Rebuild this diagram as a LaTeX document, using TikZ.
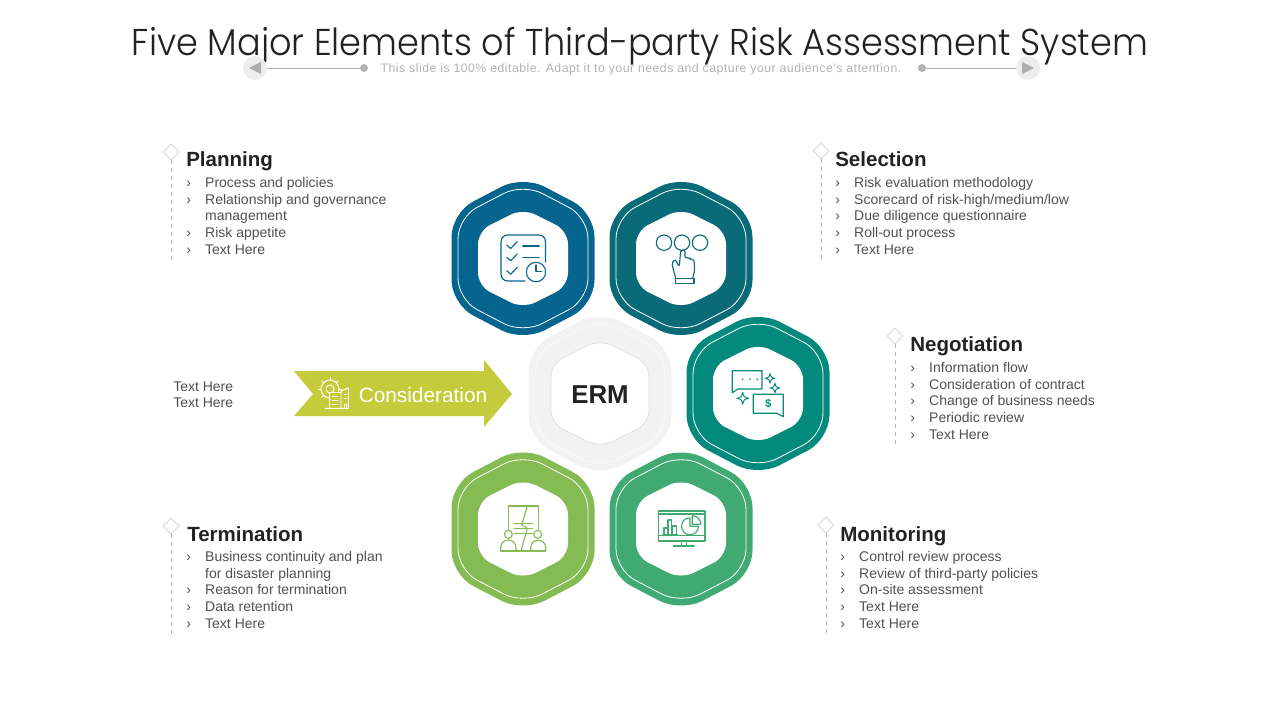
\documentclass[tikz,border=0pt]{standalone}
\usepackage{fontspec}
\setmainfont{Liberation Sans}
\newfontfamily\titlefont{Poppins Light}
\usetikzlibrary{shapes.geometric}
\definecolor{hexblue}{HTML}{05658F}
\definecolor{hexteal}{HTML}{0A6B78}
\definecolor{hexsea}{HTML}{038A7C}
\definecolor{hexlime}{HTML}{84BB53}
\definecolor{hexgreen}{HTML}{41AA72}
\definecolor{arrowlime}{HTML}{C4CC3C}
\definecolor{bodygray}{HTML}{505050}
\definecolor{headgray}{HTML}{222222}
\tikzset{
  heading/.style={anchor=base west, inner sep=0pt, text=headgray, font=\fontsize{15.4}{18}\selectfont\bfseries},
  itemlist/.style={anchor=north west, inner sep=0pt, align=left, text=bodygray, font=\fontsize{10.5}{12.56}\selectfont},
  marker/.style={diamond, draw=black!18, fill=white, line width=.6pt, minimum size=12pt, inner sep=0pt},
  guide/.style={draw=black!28, dashed, line width=.5pt},
  iconline/.style={line width=.85pt, line join=round, line cap=round},
}
\newcommand{\hexpath}[4]{(#1,#2-#4) -- (#1+#3,#2-#4*.55) -- (#1+#3,#2+#4*.55) -- (#1,#2+#4) -- (#1-#3,#2+#4*.55) -- (#1-#3,#2-#4*.55) -- cycle}
\newcommand{\hexcell}[4]{
  \fill[#4, rounded corners=18pt] \hexpath{#2}{#3}{71.5}{83};
  \draw[white, line width=.6pt, rounded corners=16pt] \hexpath{#2}{#3}{65}{75};
  \fill[white, rounded corners=10pt] \hexpath{#2}{#3}{45}{50};
  \coordinate (#1) at (#2,#3);
}
\newcommand{\sparkle}[3]{\draw[hexsea, line width=.7pt, line join=round] (#1,#2-#3) .. controls (#1+.2*#3,#2-.2*#3) .. (#1+#3,#2) .. controls (#1+.2*#3,#2+.2*#3) .. (#1,#2+#3) .. controls (#1-.2*#3,#2+.2*#3) .. (#1-#3,#2) .. controls (#1-.2*#3,#2-.2*#3) .. cycle;}
\newcommand{\itm}{\makebox[14.2pt][l]{›}}
\newcommand{\itc}{\hspace*{14.2pt}}
\begin{document}
\begin{tikzpicture}[x=.75pt, y=-.75pt]
  \useasboundingbox (0,0) rectangle (1280,720);

  \node[text=headgray, font=\fontsize{28}{34}\selectfont\titlefont, inner sep=0pt] (title) at (640,46.5) {\scalebox{.94}[1]{Five Major Elements of Third-party Risk Assessment System}};
  \node[text=black!30, font=\fontsize{9.2}{11}\selectfont\addfontfeatures{LetterSpace=4}, inner sep=0pt] (subtitle) at (641,69.5) {This slide is 100\% editable. Adapt it to your needs and capture your audience's attention.};

  \node[circle, fill=black!7, minimum size=18pt, inner sep=0pt] (orbl) at (255,68) {};
  \node[circle, fill=black!7, minimum size=18pt, inner sep=0pt] (orbr) at (1028,68) {};
  \fill[black!32] (249,68) -- (261,62) -- (261,74) -- cycle;
  \fill[black!32] (1034,68) -- (1022,62) -- (1022,74) -- cycle;
  \node[circle, fill=black!30, minimum size=6pt, inner sep=0pt] (dotl) at (364,68) {};
  \node[circle, fill=black!30, minimum size=6pt, inner sep=0pt] (dotr) at (922,68) {};
  \draw[black!30, line width=.6pt] (orbl) -- (dotl);
  \draw[black!30, line width=.6pt] (dotr) -- (orbr);

  \hexcell{hexplan}{523}{258.5}{hexblue}
  \hexcell{hexsel}{681}{258.5}{hexteal}
  \hexcell{hexneg}{758}{393.5}{hexsea}
  \hexcell{hexterm}{523}{529}{hexlime}
  \hexcell{hexmon}{681}{529}{hexgreen}

  \fill[black!5, rounded corners=18pt] \hexpath{600}{393.5}{71.5}{83};
  \draw[black!2, line width=.6pt, rounded corners=16pt] \hexpath{600}{393.5}{65}{75};
  \filldraw[draw=black!12, fill=white, line width=.5pt, rounded corners=10pt] \hexpath{600}{393.5}{49}{54};
  \node[text=headgray, font=\fontsize{19.4}{22}\selectfont\bfseries, inner sep=0pt] (erm) at (600,394.5) {ERM};

  \fill[arrowlime] (294,371) -- (484,371) -- (484,360) -- (512,394) -- (484,427) -- (484,416) -- (294,416) -- (313,394) -- cycle;
  \node[text=white, font=\fontsize{15.6}{18}\selectfont, inner sep=0pt] (consider) at (423,395) {Consideration};
  \node[itemlist] (sidetext) at (173,381.2) {Text Here\\Text Here};

  % checklist
  \begin{scope}[iconline, hexblue]
    \draw[rounded corners=5pt] (525,281) -| (501,235) -| (545.5,262);
    \foreach \y in {0,12.3,25.7}
      \draw (506.7,245+\y) -- (510.7,248.5+\y) -- (517.3,241.5+\y);
    \draw (522.7,246) -- (539.3,246);
    \draw (522.7,257.7) -- (539.3,257.7);
    \draw (536,272) circle (9.7);
    \draw (536,265) -- (536,271.7) -- (541.7,271.7);
  \end{scope}

  % hand
  \begin{scope}[iconline, hexteal]
    \foreach \x in {664,682,700}
      \draw (\x,242.7) circle (7.7);
    \draw (675.7,278.3) rectangle (694,283.3);
    \draw[rounded corners=1.5pt] (675.7,278.3) -- (671.7,263.3) -- (675,259.3) -- (679.3,266.7) -- (680.7,250) -- (685,250) -- (685,258.3) -- (689.3,257.3) -- (690,260) -- (694,259.5) -- (694.7,270) -- (692.7,278.3);
  \end{scope}

  % chat
  \begin{scope}[iconline, hexsea]
    \draw (738,389) -- (762,389) -- (762,370.7) -- (732.3,370.7) -- (732.3,392.7) -- cycle;
    \draw (777,413.3) -- (753.3,413.3) -- (753.3,394.3) -- (783.3,394.3) -- (783.3,416.7) -- cycle;
    \foreach \x in {742.7,750,757.3}
      \fill (\x,379.3) circle (.9);
    \node[text=hexsea, font=\fontsize{8.5}{10}\selectfont\bfseries, inner sep=0pt] (dollar) at (768.3,404) {\$};
  \end{scope}
  \sparkle{770}{378.3}{4.8}
  \sparkle{775}{388}{4.8}
  \sparkle{742.7}{398.3}{6}

  % contract
  \begin{scope}[iconline, hexlime]
    \draw (508.3,530) -- (508.3,506) -- (538.3,506) -- (538.3,530);
    \draw (527.3,506) -- (521.7,525) -- (527.3,528.3) -- (521,551);
    \foreach \y in {523.3,528.3,533.3}
      \draw (514,\y) -- (532.7,\y);
    \draw (508.3,534.3) circle (4);
    \draw (537.7,534.3) circle (4);
    \draw (500.7,551) -- (545.7,551);
    \draw (500.7,551) -- (500.7,547.6) arc (180:360:7.65) -- (516,551);
    \draw (530.7,551) -- (530.7,547.6) arc (180:360:7.5) -- (545.7,551);
  \end{scope}

  % monitor
  \begin{scope}[iconline, hexgreen]
    \draw (658.3,511) rectangle (705,541);
    \draw (658.3,514) -- (705,514);
    \draw (658.3,535.7) -- (705,535.7);
    \draw (681.7,541) -- (681.7,546);
    \draw (686.7,541) -- (686.7,546);
    \draw (673.3,546) -- (694.3,546);
    \draw (663,534.3) -- (677.5,534.3);
    \draw (664,534.3) |- (667.5,528) -- (667.5,534.3);
    \draw (668,534.3) |- (671.7,520) -- (671.7,534.3);
    \draw (672.7,534.3) |- (676.7,526) -- (676.7,534.3);
    \draw (690,517.8) arc (-90:-360:8.5) -- (690,526.3) -- cycle;
    \draw (692.3,515.7) arc (-90:0:8.6) -- (692.3,524.3) -- cycle;
  \end{scope}

  % gear and building
  \begin{scope}[iconline, white, line width=.7pt]
    \draw (330,389) ++(100:9) arc (100:380:9);
    \foreach \a in {135,180,...,360}
      \draw (330,389) ++(\a:9) -- ++(\a:2.6);
    \draw (330,389) circle (4);
    \draw (325,408.3) -- (348.3,408.3) -- (348.3,388) -- (341,391) -- (341,408.3);
    \draw (329,408.3) -- (329,392) -- (341,392);
    \foreach \y in {396,400,404}
      \draw (332,\y) -- (338,\y);
    \draw (344,394) -- (346,394);
    \draw (344,398) -- (346,398);
    \draw (344,404) rectangle (346,408.3);
  \end{scope}

  \node[marker] (markplan) at (171,152) {};
  \coordinate (endplan) at (171,263);
  \draw[guide] (markplan) -- (endplan);
  \node[heading] (headplan) at (186,166.5) {Planning};
  \node[itemlist] (listplan) at (186,177) {\itm Process and policies\\\itm Relationship and governance\\\itc management\\\itm Risk appetite\\\itm Text Here};

  \node[marker] (marksel) at (821,151) {};
  \coordinate (endsel) at (821,262);
  \draw[guide] (marksel) -- (endsel);
  \node[heading] (headsel) at (835,166.5) {Selection};
  \node[itemlist] (listsel) at (835,177) {\itm Risk evaluation methodology\\\itm Scorecard of risk-high/medium/low\\\itm Due diligence questionnaire\\\itm Roll-out process\\\itm Text Here};

  \node[marker] (markneg) at (895,336) {};
  \coordinate (endneg) at (895,447);
  \draw[guide] (markneg) -- (endneg);
  \node[heading] (headneg) at (910,351) {Negotiation};
  \node[itemlist] (listneg) at (910,362) {\itm Information flow\\\itm Consideration of contract\\\itm Change of business needs\\\itm Periodic review\\\itm Text Here};

  \node[marker] (markterm) at (171,526) {};
  \coordinate (endterm) at (171,637);
  \draw[guide] (markterm) -- (endterm);
  \node[heading] (headterm) at (187,541) {Termination};
  \node[itemlist] (listterm) at (186,551) {\itm Business continuity and plan\\\itc for disaster planning\\\itm Reason for termination\\\itm Data retention\\\itm Text Here};

  \node[marker] (markmon) at (826,525) {};
  \coordinate (endmon) at (826,636);
  \draw[guide] (markmon) -- (endmon);
  \node[heading] (headmon) at (840,541) {Monitoring};
  \node[itemlist] (listmon) at (840,551) {\itm Control review process\\\itm Review of third-party policies\\\itm On-site assessment\\\itm Text Here\\\itm Text Here};
\end{tikzpicture}
\end{document}
